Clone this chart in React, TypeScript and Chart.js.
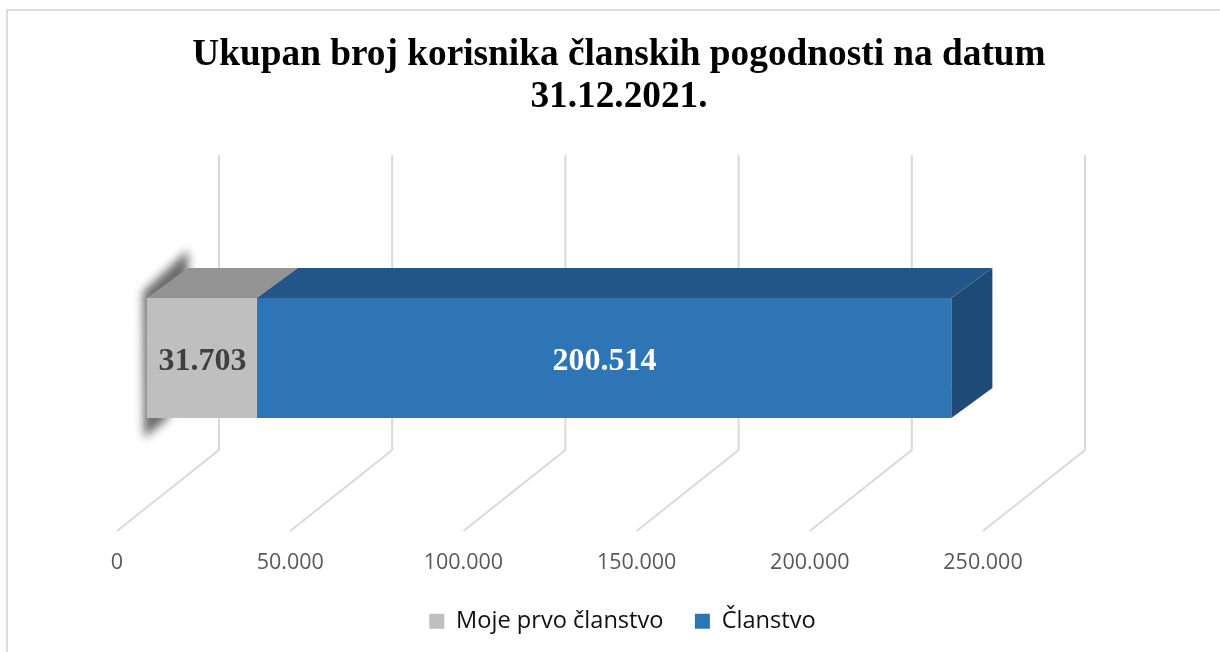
import React, { useEffect, useRef } from "react";
import { Chart, registerables } from "chart.js";

Chart.register(...registerables);

const categories = ["31.12.2021."];
const seriesNames = ["Moje prvo članstvo", "Članstvo"];
const prvoClanstvo = [31703];
const clanstvo = [200514];
const axisMax = 250000;
const axisStep = 50000;
const titleLines = ["Ukupan broj korisnika članskih pogodnosti na datum", "31.12.2021."];

const fmt = (v: number) => String(v).replace(/\B(?=(\d{3})+(?!\d))/g, ".");

const FACE = ["#BFBFBF", "#2E75B6"];
const TOP = ["#939393", "#225688"];
const SIDE = ["#8F8F8F", "#1E4B75"];
const LABEL = ["#404040", "#FFFFFF"];

const GRID = { dx: 102, dy: 81 };
const BAR_SHIFT = { x: 30, y: 15 };
const BAR_DEPTH = { x: 41, y: 30 };
const LEGEND_SHIFT = 3.5;

const poly = (ctx: CanvasRenderingContext2D, pts: number[][], fill: string) => {
  ctx.beginPath();
  pts.forEach((p, i) => (i ? ctx.lineTo(p[0], p[1]) : ctx.moveTo(p[0], p[1])));
  ctx.closePath();
  ctx.fillStyle = fill;
  ctx.fill();
};

const frame3d = {
  id: "frame3d",
  afterLayout(chart: any) {
    chart.legend.left += LEGEND_SHIFT;
    chart.legend.right += LEGEND_SHIFT;
  },
  beforeDraw(chart: any) {
    const { ctx } = chart;
    ctx.save();
    ctx.strokeStyle = "#DDDDDD";
    ctx.lineWidth = 2;
    ctx.beginPath();
    ctx.moveTo(7, chart.height);
    ctx.lineTo(7, 10);
    ctx.lineTo(chart.width, 10);
    ctx.stroke();
    ctx.restore();
  },
  beforeDatasetsDraw(chart: any) {
    const { ctx, chartArea } = chart;
    const x = chart.scales.x;
    ctx.save();
    ctx.strokeStyle = "#D9D9D9";
    ctx.lineWidth = 2;
    x.ticks.forEach((t: any) => {
      const px = x.getPixelForValue(t.value);
      ctx.beginPath();
      ctx.moveTo(px, chartArea.bottom);
      ctx.lineTo(px + GRID.dx, chartArea.bottom - GRID.dy);
      ctx.lineTo(px + GRID.dx, chartArea.top);
      ctx.stroke();
    });
    ctx.restore();
    ctx.save();
    ctx.translate(BAR_SHIFT.x, BAR_SHIFT.y);
    // soft shadow that falls behind the left end of the bar
    const b = chart.getDatasetMeta(0).data[0];
    const l = b.base;
    const t = b.y - b.height / 2;
    const bt = b.y + b.height / 2;
    ctx.save();
    ctx.filter = "blur(5px)";
    poly(
      ctx,
      [
        [l - 4, t - 6],
        [l + BAR_DEPTH.x, t - BAR_DEPTH.y - 18],
        [l + BAR_DEPTH.x, t - BAR_DEPTH.y + 8],
        [l + 8, t + 8],
        [l + 8, bt - 8],
        [l + 26, bt - 4],
        [l - 3, bt + 20],
      ],
      "#6A6A6A"
    );
    ctx.restore();
  },
  afterDatasetsDraw(chart: any) {
    const { ctx } = chart;
    const metas = [0, 1].map((i) => chart.getDatasetMeta(i).data[0]);
    metas.forEach((b: any, i: number) => {
      const t = b.y - b.height / 2;
      poly(
        ctx,
        [
          [b.base, t],
          [b.x, t],
          [b.x + BAR_DEPTH.x, t - BAR_DEPTH.y],
          [b.base + BAR_DEPTH.x, t - BAR_DEPTH.y],
        ],
        TOP[i]
      );
    });
    const last = metas[1];
    const t = last.y - last.height / 2;
    const bt = last.y + last.height / 2;
    poly(
      ctx,
      [
        [last.x, t],
        [last.x + BAR_DEPTH.x, t - BAR_DEPTH.y],
        [last.x + BAR_DEPTH.x, bt - BAR_DEPTH.y],
        [last.x, bt],
      ],
      SIDE[1]
    );
    ctx.textAlign = "center";
    ctx.textBaseline = "middle";
    ctx.font = "bold 32px 'Liberation Serif'";
    metas.forEach((b: any, i: number) => {
      const v = chart.data.datasets[i].data[0];
      ctx.fillStyle = LABEL[i];
      ctx.fillText(fmt(v), (b.base + b.x) / 2 + 0.5, b.y + 4);
    });
    ctx.restore();
  },
};

export default function App() {
  const ref = useRef<HTMLCanvasElement>(null);
  useEffect(() => {
    const chart = new Chart(ref.current!, {
      type: "bar",
      data: {
        labels: categories,
        datasets: [
          { label: seriesNames[0], data: prvoClanstvo, backgroundColor: FACE[0], clip: false },
          { label: seriesNames[1], data: clanstvo, backgroundColor: FACE[1], clip: false },
        ] as any,
      },
      plugins: [frame3d],
      options: {
        indexAxis: "y",
        responsive: false,
        animation: false,
        layout: { padding: { left: 18, right: 0, top: 0, bottom: 9 } },
        datasets: { bar: { barPercentage: 1, categoryPercentage: 0.319 } },
        scales: {
          x: {
            stacked: true,
            min: 0,
            max: axisMax,
            grid: { display: false },
            border: { display: false },
            afterFit: (s: any) => {
              s.height = 65.4;
            },
            ticks: {
              stepSize: axisStep,
              maxRotation: 0,
              autoSkip: false,
              padding: 11,
              color: "#595959",
              font: { family: "'Open Sans'", size: 21.5 },
              callback: (v: any) => fmt(Number(v)),
            },
          },
          y: {
            stacked: true,
            grid: { display: false },
            border: { display: false },
            ticks: { display: false },
            afterFit: (s: any) => {
              s.width = 99;
            },
          },
          yRight: {
            type: "linear",
            position: "right",
            grid: { display: false },
            border: { display: false },
            ticks: { display: false },
            afterFit: (s: any) => {
              s.width = 237;
            },
          },
        },
        plugins: {
          tooltip: { enabled: false },
          title: {
            display: true,
            text: titleLines,
            color: "#000000",
            font: { family: "'Liberation Serif'", size: 37.3, weight: "bold", lineHeight: 1.126 },
            padding: { top: 34, bottom: 37 },
          },
          legend: {
            position: "bottom",
            labels: {
              boxWidth: 15,
              boxHeight: 15,
              padding: 13,
              color: "#111111",
              font: { family: "'Open Sans'", size: 23.6 },
              generateLabels: (c: any) => {
                const items = Chart.defaults.plugins.legend.labels.generateLabels(c);
                items[0].text = items[0].text + "   ";
                return items;
              },
            },
          },
        },
      } as any,
    });
    return () => chart.destroy();
  }, []);
  return (
    <div style={{ position: "fixed", left: 0, top: 0, width: 1220, height: 652, background: "#fff" }}>
      <canvas ref={ref} width={1220} height={652} style={{ display: "block" }} />
    </div>
  );
}
